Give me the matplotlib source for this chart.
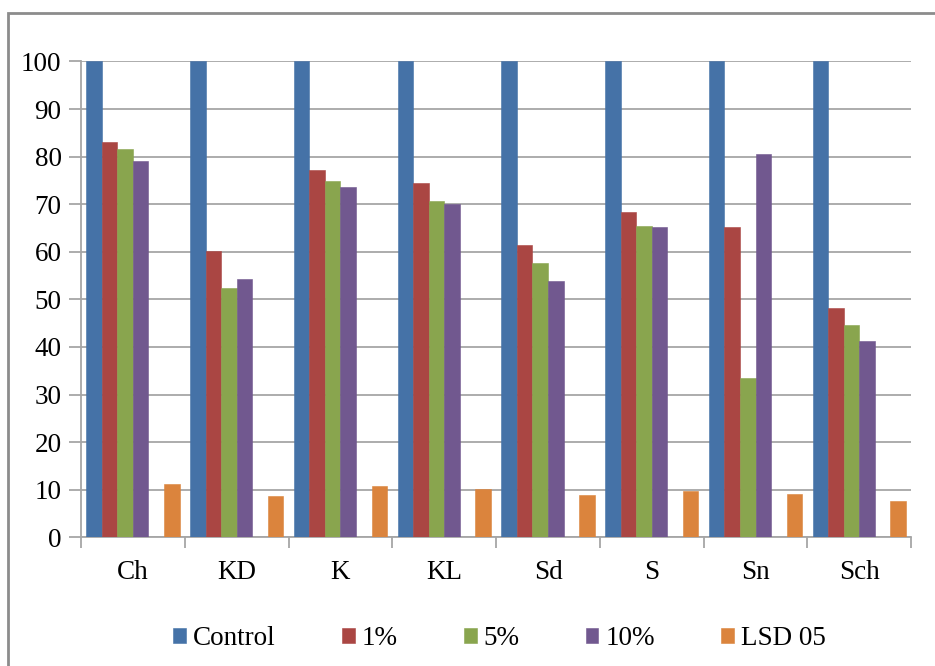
import numpy as np
import matplotlib.pyplot as plt
from matplotlib.patches import Rectangle

# %% Data
sites = ["Ch", "KD", "K", "KL", "Sd", "S", "Sn", "Sch"]
control = [100, 100, 100, 100, 100, 100, 100, 100]
dose_1 = [83.1, 60.1, 77.1, 74.4, 61.4, 68.4, 65.2, 48.2]
dose_5 = [81.7, 52.3, 74.9, 70.6, 57.6, 65.4, 33.4, 44.7]
dose_10 = [79.0, 54.2, 73.6, 70.0, 53.8, 65.2, 80.6, 41.2]
lsd_05 = [11.3, 8.6, 10.8, 10.2, 8.9, 9.7, 9.2, 7.6]

series_names = ["Control", "1%", "5%", "10%", "LSD 05"]
colors = ["#4572A7", "#AA4643", "#89A54E", "#71588F", "#DB843D"]
slots = [0, 1, 2, 3, 5]  # slot 4 is left empty

# %% Plot
plt.rcParams['font.family'] = ['Liberation Serif', 'DejaVu Serif']
fs = 19.5

fig = plt.figure(figsize=(9.35, 6.66), dpi=100)
ax = fig.add_axes([0.0866, 0.1932, 0.888, 0.7145])

x = np.arange(len(sites))
width = 0.15
for vals, name, col, slot in zip([control, dose_1, dose_5, dose_10, lsd_05],
                                 series_names, colors, slots):
    ax.bar(x + (slot - 2.5) * width, vals, width, color=col, label=name,
           edgecolor=col, linewidth=0.4, zorder=3)

ax.set_xlim(-0.5, len(sites) - 0.5)
ax.set_ylim(0, 100)
ax.set_yticks(range(0, 101, 10))
ax.yaxis.grid(True, color="#A6A6A6", linewidth=1.3, zorder=0)
ax.set_axisbelow(True)

# category boundaries get the tick marks, names sit between them
ax.set_xticks(np.arange(-0.5, len(sites), 1))
ax.set_xticklabels([])
ax.set_xticks(x, minor=True)
ax.set_xticklabels(sites, minor=True)
ax.tick_params(axis='x', which='minor', length=0, pad=16, labelsize=fs)
ax.tick_params(axis='x', which='major', length=8, width=1.3, color="#A6A6A6")
ax.tick_params(axis='y', length=9, width=1.3, color="#A6A6A6", labelsize=fs, pad=5)

for side in ['top', 'right']:
    ax.spines[side].set_visible(False)
for side in ['left', 'bottom']:
    ax.spines[side].set_color("#A6A6A6")
    ax.spines[side].set_linewidth(1.3)

ax.legend(loc='center', bbox_to_anchor=(0.504, -0.212), ncol=5, frameon=False,
          fontsize=fs, handlelength=0.47, handleheight=0.47, handletextpad=0.25,
          columnspacing=2.45)

# outer chart frame
fig.patches.append(Rectangle((7.5 / 935, -0.1), 1.2, 1.1 - 12.5 / 666,
                             transform=fig.transFigure, fill=False,
                             edgecolor="#8C8C8C", linewidth=2))

fig.savefig("out.png", dpi=100)
